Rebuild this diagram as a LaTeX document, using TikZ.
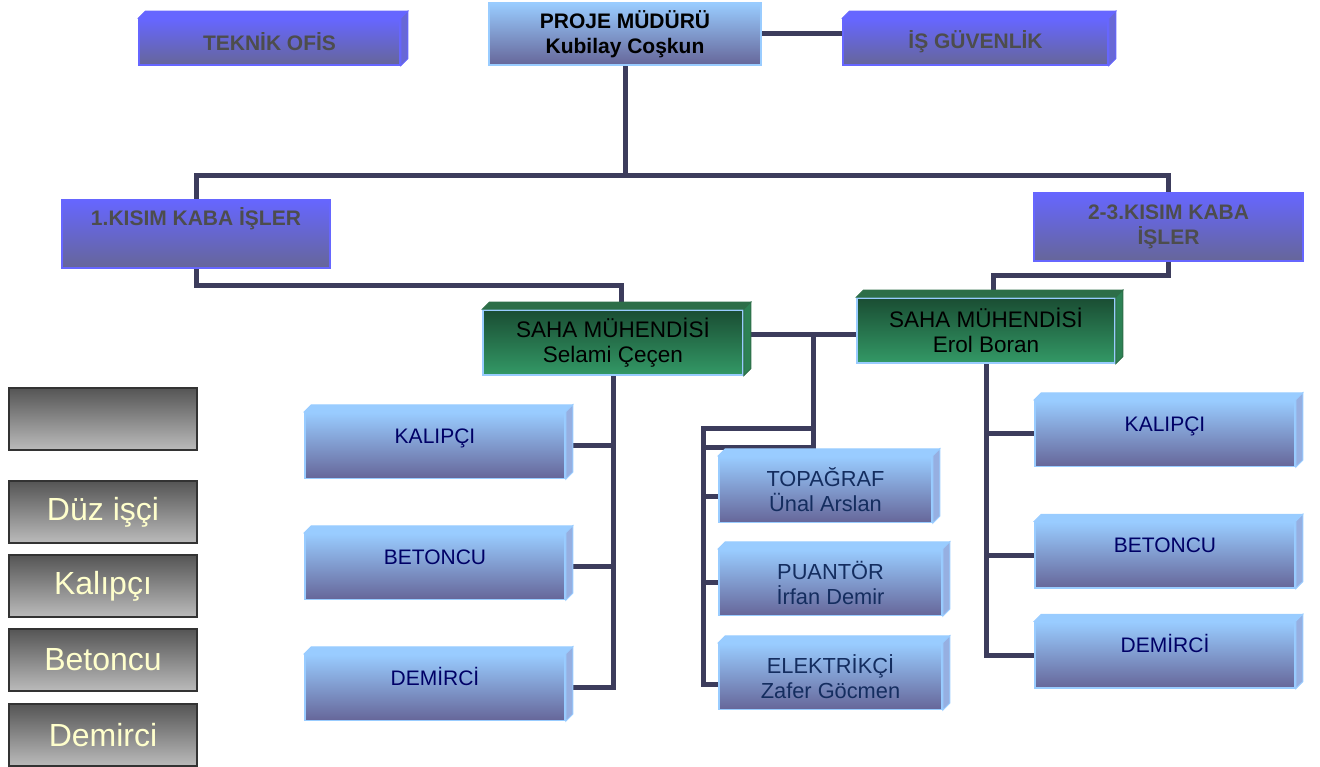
\documentclass[tikz,border=0pt]{standalone}
\usepackage{fontspec}
\setmainfont{Liberation Sans}
\usepackage{tikz}
\usetikzlibrary{calc,backgrounds,positioning}
\definecolor{linkcol}{RGB}{60,60,92}
\definecolor{violtop}{RGB}{102,102,255}
\definecolor{violbot}{RGB}{102,102,153}
\definecolor{violside}{RGB}{104,104,214}
\definecolor{skytop}{RGB}{153,204,255}
\definecolor{skybot}{RGB}{102,102,153}
\definecolor{skyside}{RGB}{150,175,225}
\definecolor{greentop}{RGB}{26,77,51}
\definecolor{greenbot}{RGB}{51,153,102}
\definecolor{greenlid}{RGB}{45,110,72}
\definecolor{greenside}{RGB}{45,130,85}
\definecolor{greytop}{RGB}{85,85,85}
\definecolor{greybot}{RGB}{187,187,187}
\definecolor{cream}{RGB}{255,255,204}
\definecolor{crewink}{RGB}{0,0,102}
\definecolor{nameink}{RGB}{20,45,95}
\definecolor{inkgrey}{RGB}{77,77,77}
\newcommand{\slab}[3]{%
  \filldraw[draw=#2, fill=#2, line width=1pt] (#1.north west) -- ++(7,-7) -- ($(#1.north east)+(7,-7)$) -- (#1.north east) -- cycle;
  \filldraw[draw=#2, fill=#3, line width=1pt] (#1.north east) -- ++(7,-7) -- ($(#1.south east)+(7,-7)$) -- (#1.south east) -- cycle;}
\tikzset{
  link/.style={line width=5pt, draw=linkcol, line cap=rect},
  box/.style={inner sep=2pt, align=center, font=\fontsize{21}{25}\selectfont, line width=1.5pt},
  head/.style={box, top color=violtop, bottom color=violbot, draw=violtop, text=inkgrey,
    font=\fontsize{21}{25}\selectfont\bfseries, minimum width=#1, minimum height=46pt},
  section/.style={head=#1, minimum height=68pt},
  chief/.style={box, top color=skytop, bottom color=skybot, draw=skytop,
    font=\fontsize{21}{25}\selectfont\bfseries, minimum width=272pt, minimum height=62pt},
  engineer/.style={box, top color=greentop, bottom color=greenbot, draw=skytop,
    font=\fontsize{22.5}{25}\selectfont, minimum width=#1, minimum height=65pt},
  crew/.style={box, top color=skytop, bottom color=skybot, draw=skytop, text=crewink,
    minimum width=260pt, minimum height=66pt},
  staff/.style={box, top color=skytop, bottom color=skybot, draw=skytop, text=nameink,
    font=\fontsize{21.8}{25}\selectfont, minimum width=#1, minimum height=66pt},
  lifted/.style={text height=16pt, text depth=#1},
  key/.style={inner sep=2pt, top color=greytop, bottom color=greybot, draw=black!80,
    line width=1.5pt, text=cream, font=\fontsize{32}{38}\selectfont,
    minimum width=188pt, minimum height=62pt},
}
\begin{document}
\begin{tikzpicture}[x=1pt, y=-1pt]
  \useasboundingbox (0,0) rectangle (1320,767);
  \node[head=261pt] (tek) at (269.5,42) {TEKNİK OFİS};
  \node[chief] (pm) at (625,34) {PROJE MÜDÜRÜ\\Kubilay Coşkun};
  \node[head=265pt] (isg) at (975.5,42) {İŞ GÜVENLİK};
  \node[section=268pt, lifted=33pt] (k1) at (196,234) {1.KISIM KABA İŞLER};
  \node[section=269pt] (k23) at (1168.5,227) {2-3.KISIM KABA\\İŞLER};
  \node[engineer=260pt] (se1) at (613,342.5) {SAHA MÜHENDİSİ\\Selami Çeçen};
  \node[engineer=258pt] (se2) at (986,330.5) {SAHA MÜHENDİSİ\\Erol Boran};
  \node[crew, lifted=21pt] (lk) at (435,445.5) {KALIPÇI};
  \node[crew, lifted=21pt] (lb) at (435,566.5) {BETONCU};
  \node[crew, lifted=21pt] (ld) at (435,687.5) {DEMİRCİ};
  \node[staff=213pt] (topo) at (825.5,489.5) {TOPAĞRAF\\Ünal Arslan};
  \node[staff=223pt] (puan) at (830.5,582.5) {PUANTÖR\\İrfan Demir};
  \node[staff=223pt] (elek) at (830.5,676.5) {ELEKTRİKÇİ\\Zafer Göcmen};
  \node[crew, lifted=21pt] (rk) at (1165,433.5) {KALIPÇI};
  \node[crew, lifted=21pt] (rb) at (1165,555) {BETONCU};
  \node[crew, lifted=21pt] (rd) at (1165,655) {DEMİRCİ};
  \node[key] (key0) at (103,419) {};
  \node[key] (key1) at (103,512) {Düz işçi};
  \node[key] (key2) at (103,586) {Kalıpçı};
  \node[key] (key3) at (103,660) {Betoncu};
  \node[key] (key4) at (103,735) {Demirci};
  \slab{tek}{violtop}{violside}
  \slab{isg}{violtop}{violside}
  \slab{se1}{greenlid}{greenside}
  \slab{se2}{greenlid}{greenside}
  \foreach \n in {lk,lb,ld,topo,puan,elek,rk,rb,rd}
    {\slab{\n}{skytop}{skyside}}
  \begin{pgfonlayer}{background}
    \coordinate (spine) at (625,176);
    \coordinate (mid) at (813,335);
    \coordinate (drop) at (813,447);
    \coordinate (sq) at (703,428);
    \draw[link] (pm.east) -- (pm.east -| isg.west);
    \draw[link] (pm.south) -- (spine) -| (k1.north);
    \draw[link] (spine) -| (k23.north);
    \draw[link] (k1.south) -- ++(0,17) -| ($(se1.north)+(8,-7)$);
    \draw[link] (k23.south) -- ++(0,14) -| ($(se2.north)+(7,-7)$);
    \draw[link] (se1.east |- mid) -- (se2.west |- mid);
    \draw[link] (mid) -- (drop) -| (sq) -- (sq -| mid);
    \draw[link] (sq) |- ($(elek.west)+(0,8)$);
    \draw[link] ($(sq |- topo.west)+(0,7)$) -- ($(topo.west)+(0,7)$);
    \draw[link] (sq |- puan.west) -- (puan.west);
    \draw[link] (se1.south) -- (se1.south |- ld.east);
    \foreach \n in {lk,lb,ld}
      \draw[link] (\n.east) -- (\n.east -| se1.south);
    \draw[link] (se2.south) -- (se2.south |- rd.west);
    \foreach \n in {rk,rb,rd}
      \draw[link] (\n.west) -- (\n.west -| se2.south);
  \end{pgfonlayer}
\end{tikzpicture}
\end{document}
